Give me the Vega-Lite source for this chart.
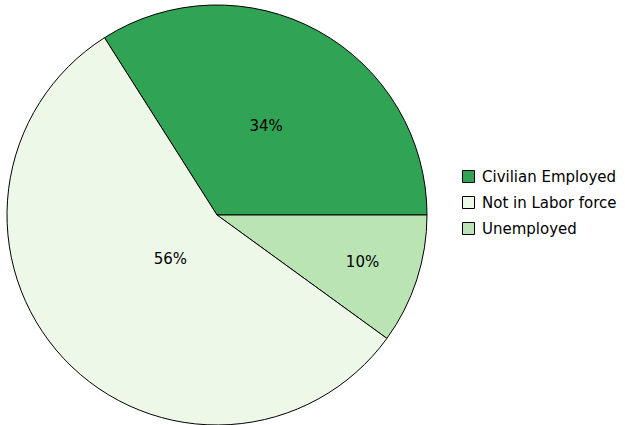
{
  "$schema": "https://vega.github.io/schema/vega-lite/v6.json",
  "width": 420,
  "height": 420,
  "padding": {"left": 5, "top": 3, "right": 0, "bottom": 0},
  "background": "white",
  "data": {
    "values": [
      {"category": "Civilian Employed", "value": 34, "ord": 1, "label": "34%"},
      {"category": "Unemployed", "value": 10, "ord": 2, "label": "10%"},
      {"category": "Not in Labor force", "value": 56, "ord": 3, "label": "56%"}
    ]
  },
  "config": {"view": {"stroke": null}, "font": "DejaVu Sans"},
  "layer": [
    {
      "mark": {"type": "arc", "stroke": "black", "strokeWidth": 1, "outerRadius": 210},
      "encoding": {
        "theta": {"field": "value", "type": "quantitative", "stack": true, "scale": {"range": [-0.5655, 5.7177]}},
        "order": {"field": "ord", "type": "quantitative"},
        "color": {
          "field": "category",
          "type": "nominal",
          "scale": {
            "domain": ["Civilian Employed", "Not in Labor force", "Unemployed"],
            "range": ["#31a354", "#edf8e9", "#bae4b3"]
          },
          "legend": {
            "title": null,
            "orient": "none",
            "legendX": 454,
            "legendY": 164,
            "symbolType": "square",
            "symbolSize": 144,
            "symbolStrokeColor": "black",
            "symbolStrokeWidth": 1,
            "labelFontSize": 15,
            "labelColor": "black",
            "rowPadding": 9,
            "labelOffset": 6
          }
        }
      }
    },
    {
      "mark": {"type": "text", "fontSize": 15, "color": "black"},
      "encoding": {
        "theta": {"field": "value", "type": "quantitative", "stack": true},
        "order": {"field": "ord", "type": "quantitative"},
        "radius": {"field": "value", "type": "quantitative", "scale": {"type": "linear", "zero": false, "domain": [10, 34, 56], "range": [153, 102, 64]}},
        "text": {"field": "label", "type": "nominal"}
      }
    }
  ]
}
